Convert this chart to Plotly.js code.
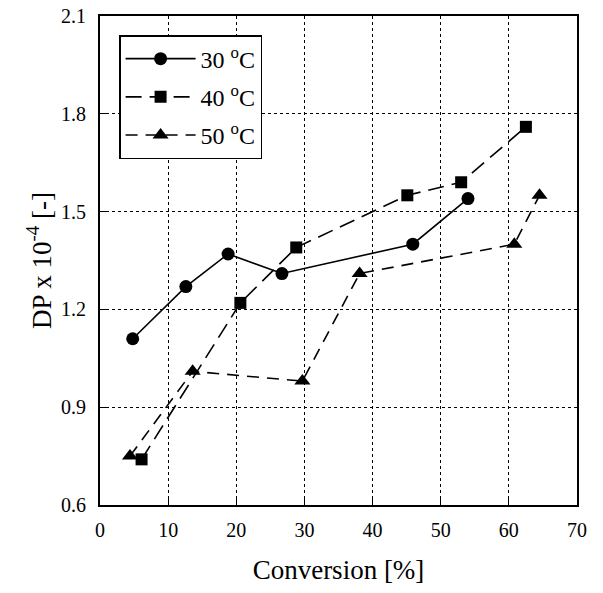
<!DOCTYPE html>
<html>
<head>
<meta charset="utf-8">
<script src="https://cdn.plot.ly/plotly-3.0.1.min.js"></script>
<style>html,body{margin:0;padding:0;background:#fff;}#chart{width:603px;height:593px;}</style>
</head>
<body>
<div id="chart"></div>
<script>
// Data
const series30_x = [4.8, 12.6, 18.8, 26.7, 45.9, 54.0];
const series30_y = [1.11, 1.27, 1.37, 1.31, 1.40, 1.54];
const series40_x = [6.1, 20.6, 28.8, 45.1, 53.0, 62.5];
const series40_y = [0.74, 1.22, 1.39, 1.55, 1.59, 1.76];
const series50_x = [4.4, 13.6, 29.7, 38.1, 60.8, 64.5];
const series50_y = [0.75, 1.01, 0.98, 1.31, 1.40, 1.55];
const seriesNames = ['30 <sup>o</sup>C', '40 <sup>o</sup>C', '50 <sup>o</sup>C'];
const xTicks = [0, 10, 20, 30, 40, 50, 60, 70];
const yTicks = [0.6, 0.9, 1.2, 1.5, 1.8, 2.1];

const font = 'Liberation Serif, Times New Roman, serif';

const traces = [
  {x: series30_x, y: series30_y, name: seriesNames[0], legendgroup: 'a', mode: 'lines+markers',
   line: {color: '#000', width: 1.6, dash: 'solid'},
   marker: {symbol: 'circle', size: 13, color: '#000'}},
  {x: series40_x, y: series40_y, name: seriesNames[1], legendgroup: 'b', mode: 'lines+markers',
   line: {color: '#000', width: 1.6, dash: '16px,8px'},
   marker: {symbol: 'square', size: 12, color: '#000'}},
  {x: series50_x, y: series50_y, name: seriesNames[2], legendgroup: 'c', mode: 'lines+markers',
   line: {color: '#000', width: 1.6, dash: '12px,8px'},
   marker: {symbol: 'triangle-up', size: 14, color: '#000'}}
];

const layout = {
  width: 603, height: 593,
  margin: {l: 100, r: 26, t: 16, b: 88},
  paper_bgcolor: '#fff', plot_bgcolor: '#fff',
  font: {family: font, color: '#000', size: 20},
  showlegend: true,
  legend: {x: 0.04, y: 0.961, xanchor: 'left', yanchor: 'top',
           bgcolor: '#fff', bordercolor: '#000', borderwidth: 1.5,
           font: {family: font, size: 24, color: '#000'},
           itemwidth: 70, tracegroupgap: 4,
           entrywidth: 146, entrywidthmode: 'pixels'},
  xaxis: {range: [0, 70], tickvals: xTicks, ticktext: xTicks.map(String),
          showgrid: true, gridcolor: '#000', griddash: 'dot', gridwidth: 1,
          showline: true, linecolor: '#000', linewidth: 2, mirror: true,
          ticks: 'inside', ticklen: 8, tickcolor: '#000', zeroline: false,
          ticklabelstandoff: 6,
          tickfont: {family: font, size: 20},
          title: {text: 'Conversion [%]', font: {family: font, size: 27}, standoff: 20}},
  yaxis: {range: [0.6, 2.1], tickvals: yTicks, ticktext: yTicks.map(v => v.toFixed(1)),
          showgrid: true, gridcolor: '#000', griddash: 'dot', gridwidth: 1,
          showline: true, linecolor: '#000', linewidth: 2, mirror: true,
          ticks: 'inside', ticklen: 8, tickcolor: '#000', zeroline: false,
          ticklabelstandoff: 8,
          tickfont: {family: font, size: 20},
          title: {text: 'DP x 10<sup>-4</sup> [-]', font: {family: font, size: 27}, standoff: 2}}
};

Plotly.newPlot('chart', traces, layout, {displayModeBar: false, staticPlot: true});
</script>
</body>
</html>
